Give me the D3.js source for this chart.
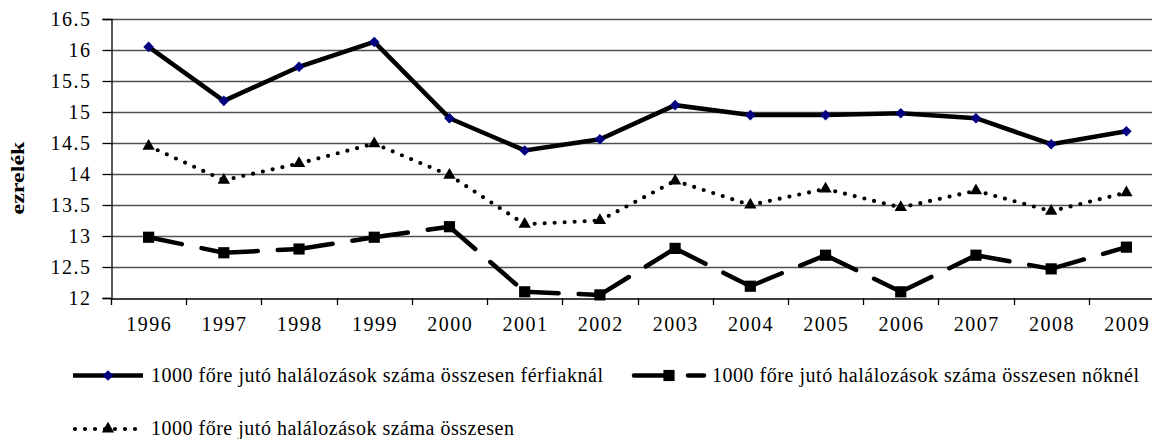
<!DOCTYPE html>
<html>
<head>
<meta charset="utf-8">
<script src="https://cdn.jsdelivr.net/npm/d3@7/dist/d3.min.js"></script>
<style>
  body { margin: 0; background: #fff; }
  svg { display: block; }
</style>
</head>
<body>
<div id="chart"></div>
<script>
const years = ['1996', '1997', '1998', '1999', '2000', '2001', '2002', '2003', '2004', '2005', '2006', '2007', '2008', '2009'];
const men = [16.05, 15.18, 15.73, 16.13, 14.90, 14.38, 14.56, 15.11, 14.95, 14.95, 14.98, 14.90, 14.48, 14.69];
const women = [12.98, 12.73, 12.79, 12.98, 13.15, 12.10, 12.05, 12.80, 12.19, 12.69, 12.10, 12.69, 12.47, 12.82];
const total = [14.45, 13.90, 14.17, 14.49, 13.98, 13.19, 13.25, 13.89, 13.50, 13.76, 13.46, 13.73, 13.40, 13.70];
const yTicks = [12, 12.5, 13, 13.5, 14, 14.5, 15, 15.5, 16, 16.5];
const seriesNames = [
  '1000 főre jutó halálozások száma összesen férfiaknál',
  '1000 főre jutó halálozások száma összesen nőknél',
  '1000 főre jutó halálozások száma összesen'
];

const FONT = '"Liberation Serif", "Times New Roman", serif';
const W = 1152, H = 439;
const plot = {l: 111, t: 19, r: 1164, b: 298};   // right edge runs past the picture, as in the original

const svg = d3.select('#chart').append('svg')
  .attr('width', W)
  .attr('height', H)
  .style('font-family', FONT);

const x = d3.scaleBand().domain(years).range([plot.l, plot.r]);
const y = d3.scaleLinear().domain([12, 16.5]).range([plot.b, plot.t]);
const cx = d => x(d) + x.bandwidth() / 2;

const styleTickText = sel => sel
  .style('font-family', FONT)
  .style('font-size', '20px')
  .style('letter-spacing', '1.5px')
  .attr('fill', '#000');

// gridlines
svg.append('g')
  .selectAll('line')
  .data(yTicks.filter(v => v > 12))
  .join('line')
  .attr('x1', plot.l).attr('x2', plot.r)
  .attr('y1', d => Math.round(y(d)) + 0.5).attr('y2', d => Math.round(y(d)) + 0.5)
  .attr('stroke', '#505050')
  .attr('stroke-width', 1.3);

// y axis
const yAxis = svg.append('g')
  .attr('transform', `translate(${plot.l + 0.5},0)`)
  .call(d3.axisLeft(y).tickValues(yTicks).tickSize(9).tickPadding(11).tickFormat(d => d));
yAxis.select('.domain').attr('stroke', '#000').attr('stroke-width', 1.3);
yAxis.selectAll('.tick line').attr('stroke', '#000').attr('stroke-width', 1.3);
yAxis.selectAll('.tick text').call(styleTickText);

// x axis
const xAxis = svg.append('g')
  .attr('transform', `translate(0,${plot.b + 0.5})`)
  .call(d3.axisBottom(x).tickSize(0).tickPadding(18));
xAxis.select('.domain').attr('stroke', '#000').attr('stroke-width', 1.3);
xAxis.selectAll('.tick text').call(styleTickText).attr('dx', '0.75px');
// category separators
svg.append('g')
  .selectAll('line')
  .data(years.concat(['end']))
  .join('line')
  .attr('x1', (d, i) => Math.round(plot.l + i * x.bandwidth()) + 0.5)
  .attr('x2', (d, i) => Math.round(plot.l + i * x.bandwidth()) + 0.5)
  .attr('y1', plot.b).attr('y2', plot.b + 7)
  .attr('stroke', '#000').attr('stroke-width', 1.3);

svg.append('text')
  .attr('transform', `translate(24,178) rotate(-90)`)
  .attr('text-anchor', 'middle')
  .attr('textLength', 73)
  .attr('lengthAdjust', 'spacingAndGlyphs')
  .style('font-family', FONT)
  .style('font-size', '19px')
  .style('font-weight', 'bold')
  .attr('fill', '#000')
  .text('ezrelék');

const styles = {
  men: {width: 4.5, cap: 'butt', dash: null},
  women: {width: 4.5, cap: 'round', dash: '34,20'},
  total: {width: 4.2, cap: 'round', dash: '0,10'}
};

// each segment drawn on its own so the dash pattern restarts per segment, as in the original
const drawSegments = (vals, style) => {
  const g = svg.append('g');
  for (let i = 0; i < vals.length - 1; i++) {
    g.append('line')
      .attr('x1', cx(years[i])).attr('y1', y(vals[i]))
      .attr('x2', cx(years[i + 1])).attr('y2', y(vals[i + 1]))
      .attr('stroke', '#000')
      .attr('stroke-width', style.width)
      .attr('stroke-linecap', style.cap)
      .attr('stroke-dasharray', style.dash);
  }
};

const lineMen = d3.line().x((d, i) => cx(years[i])).y(d => y(d));

svg.append('path')
  .attr('d', lineMen(men))
  .attr('fill', 'none')
  .attr('stroke', '#000')
  .attr('stroke-width', styles.men.width)
  .attr('stroke-linejoin', 'miter');
drawSegments(total, styles.total);
drawSegments(women, styles.women);

const diamond = d3.symbol().type(d3.symbolDiamond2).size(72);
const square = d3.symbol().type(d3.symbolSquare).size(125);
const triangle = d3.symbol().type(d3.symbolTriangle).size(66);

svg.append('g').selectAll('path')
  .data(men)
  .join('path')
  .attr('transform', (d, i) => `translate(${cx(years[i])},${y(d)})`)
  .attr('d', diamond)
  .attr('fill', '#000080');
svg.append('g').selectAll('path')
  .data(women)
  .join('path')
  .attr('transform', (d, i) => `translate(${cx(years[i])},${y(d)})`)
  .attr('d', square)
  .attr('fill', '#000');
svg.append('g').selectAll('path')
  .data(total)
  .join('path')
  .attr('transform', (d, i) => `translate(${cx(years[i])},${y(d)})`)
  .attr('d', triangle)
  .attr('fill', '#000');

// legend
const legend = [
  {name: seriesNames[0], x: 73, y: 375.5, len: 452, style: styles.men, sym: diamond, color: '#000080'},
  {name: seriesNames[1], x: 634, y: 375.5, len: 427, style: styles.women, sym: square, color: '#000'},
  {name: seriesNames[2], x: 73, y: 429, len: 363, style: styles.total, sym: triangle, color: '#000'}
];
const lg = svg.append('g').selectAll('g')
  .data(legend)
  .join('g')
  .attr('transform', d => `translate(${d.x},${d.y})`);
lg.each(function(d) {
  const g = d3.select(this);
  g.append('line')
    .attr('x1', d.style.dash === '0,10' ? 2 : 0).attr('x2', 70)
    .attr('y1', 0).attr('y2', 0)
    .attr('stroke', '#000').attr('stroke-width', d.style.width)
    .attr('stroke-linecap', d.style.cap)
    .attr('stroke-dasharray', d.style.dash);
  g.append('path').attr('transform', 'translate(35,0)').attr('d', d.sym).attr('fill', d.color);
  g.append('text')
    .attr('x', 78)
    .attr('dy', '0.32em')
    .attr('textLength', d.len)
    .attr('lengthAdjust', 'spacing')
    .style('font-family', FONT)
    .style('font-size', '20px')
    .attr('fill', '#000')
    .text(d.name);
});
</script>
</body>
</html>
